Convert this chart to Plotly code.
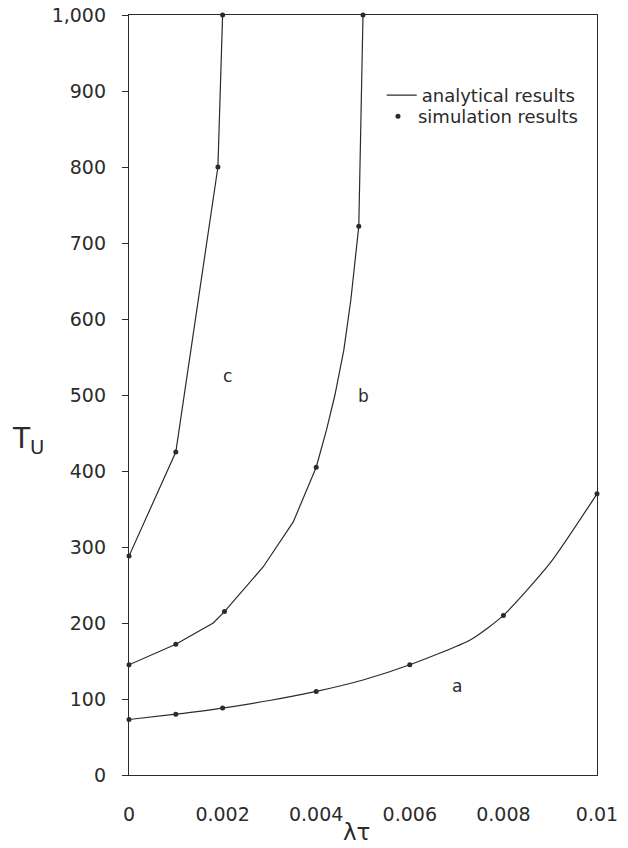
import plotly.graph_objects as go

# analytical curves (lines)
a_x = [0, 0.001, 0.002, 0.003, 0.004, 0.005, 0.006, 0.0073, 0.008, 0.009, 0.01]
a_y = [73, 80, 88, 98, 110, 125, 145, 178, 210, 279, 370]
b_x = [0, 0.001, 0.0018, 0.00204, 0.00287, 0.00316, 0.00351, 0.004, 0.00422,
       0.0044, 0.00459, 0.00474, 0.00485, 0.00491, 0.005]
b_y = [145, 172, 200, 215, 274, 300, 333, 405, 454, 500, 559, 625, 691, 722, 1000]
c_x = [0, 0.001, 0.0019, 0.002]
c_y = [288, 425, 800, 1000]

# simulation results (points)
sa_x = [0, 0.001, 0.002, 0.004, 0.006, 0.008, 0.01]
sa_y = [73, 80, 88, 110, 145, 210, 370]
sb_x = [0, 0.001, 0.00204, 0.004, 0.00491, 0.005]
sb_y = [145, 172, 215, 405, 722, 1000]
sc_x = [0, 0.001, 0.0019, 0.002]
sc_y = [288, 425, 800, 1000]

x_ticks = [0, 0.002, 0.004, 0.006, 0.008, 0.01]
x_tick_text = ["0", "0.002", "0.004", "0.006", "0.008", "0.01"]
y_ticks = [0, 100, 200, 300, 400, 500, 600, 700, 800, 900, 1000]

curve_labels = ["a", "b", "c"]
label_x = [0.0070, 0.0050, 0.0021]
label_y = [117, 499, 525]

INK = "#2b2b2b"
FONT = "DejaVu Sans"

fig = go.Figure()
shapes = ["spline", "linear", "linear"]
for i, (xs, ys) in enumerate([(a_x, a_y), (b_x, b_y), (c_x, c_y)]):
    fig.add_trace(go.Scatter(x=xs, y=ys, mode="lines",
                             line=dict(color=INK, width=1.2, shape=shapes[i],
                                       smoothing=0.6),
                             name="analytical results", showlegend=(i == 0),
                             legend="legend", cliponaxis=False))
for i, (xs, ys) in enumerate([(sa_x, sa_y), (sb_x, sb_y), (sc_x, sc_y)]):
    fig.add_trace(go.Scatter(x=xs, y=ys, mode="markers",
                             marker=dict(color=INK, size=5),
                             name="simulation results", showlegend=(i == 0),
                             legend="legend2", cliponaxis=False))

for t, lx, ly in zip(curve_labels, label_x, label_y):
    fig.add_annotation(x=lx, y=ly, xref="x", yref="y", text=t, showarrow=False,
                       font=dict(family=FONT, size=17, color=INK))

fig.add_annotation(x=-0.255, y=0.44, xref="paper", yref="paper",
                   text="T<sub>U</sub>", showarrow=False, xanchor="left",
                   yanchor="middle", font=dict(family=FONT, size=28, color=INK))
fig.add_annotation(x=0.487, y=-0.075, xref="paper", yref="paper", text="λτ",
                   showarrow=False, yanchor="middle",
                   font=dict(family=FONT, size=23, color=INK))

leg_common = dict(xanchor="left", yanchor="top", bgcolor="rgba(0,0,0,0)",
                  font=dict(size=18, color=INK), itemwidth=30)
fig.update_layout(
    width=628, height=848,
    margin=dict(l=129, r=31, t=15, b=73, autoexpand=False),
    paper_bgcolor="white", plot_bgcolor="white",
    font=dict(family=FONT, size=19, color=INK),
    legend=dict(x=0.54, y=0.9184, **leg_common),
    legend2=dict(x=0.532, y=0.8908, **leg_common),
)
fig.update_xaxes(range=[0, 0.01], tickvals=x_ticks, ticktext=x_tick_text,
                 showgrid=False, zeroline=False, showline=True, linecolor=INK,
                 linewidth=1.3, mirror=True, ticks="outside", ticklen=22,
                 tickcolor="rgba(0,0,0,0)", automargin=False)
fig.update_yaxes(range=[0, 1000], tickvals=y_ticks, tickformat=",d",
                 showgrid=False, zeroline=False, showline=True, linecolor=INK,
                 linewidth=1.3, mirror=True, ticks="outside", ticklen=6,
                 tickcolor=INK, tickwidth=1, ticklabelstandoff=12,
                 automargin=False)

fig.write_html("out.html")
